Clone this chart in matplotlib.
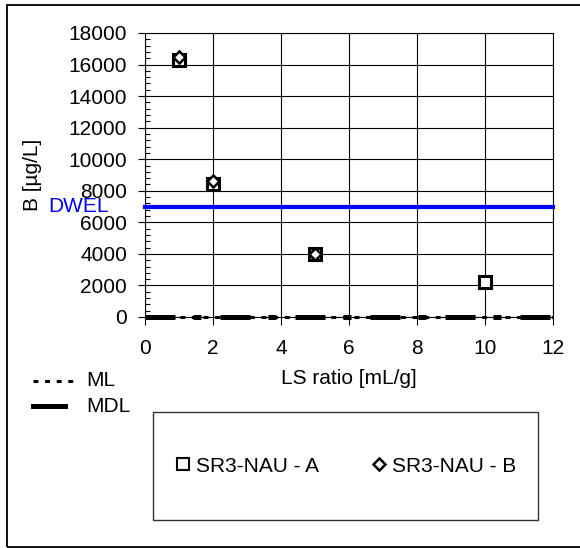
import matplotlib
matplotlib.use('Agg')
import matplotlib.pyplot as plt
from matplotlib.lines import Line2D
from matplotlib.patches import Rectangle

plt.rcParams['font.family'] = ['Liberation Sans', 'DejaVu Sans']

# data
ls_a = [1, 2, 5, 10]
b_a = [16300, 8400, 4000, 2200]
ls_b = [1, 2, 5]
b_b = [16500, 8600, 4000]
dwel = 7000
ml = 0
mdl = 0
x_ticks = [0, 2, 4, 6, 8, 10, 12]
y_ticks = [0, 2000, 4000, 6000, 8000, 10000, 12000, 14000, 16000, 18000]

W, H = 580, 548
fig = plt.figure(figsize=(W / 100, H / 100), dpi=100)
ax = fig.add_axes([145 / W, 1 - 317 / H, 408 / W, 284 / H])

fs = 15
ml_style = dict(color='black', lw=2.2, ls=(0, (1.6, 2.2)))
mdl_style = dict(color='black', lw=3.6, ls=(0, (6, 3.6, 1.6, 3.8)))

ax.axhline(dwel, color='#0000ff', lw=3, zorder=3, clip_on=False)
ax.axhline(mdl, zorder=3, clip_on=False, **mdl_style)
ax.axhline(ml, zorder=3, clip_on=False, **ml_style)

ax.plot(ls_a, b_a, ls='none', marker='s', ms=8.5, mfc='white', mec='black', mew=2.2, zorder=4)
ax.plot(ls_b, b_b, ls='none', marker='D', ms=6.5, mfc='white', mec='black', mew=1.8, zorder=5)

ax.set_xlim(0, 12)
ax.set_ylim(0, 18000)
ax.set_xticks(x_ticks)
ax.set_yticks(y_ticks)
ax.set_yticks(range(0, 18001, 400), minor=True)
ax.grid(True, which='major', color='black', lw=0.8)
ax.tick_params(axis='x', which='major', direction='out', length=6, pad=10, labelsize=fs)
ax.tick_params(axis='y', which='major', direction='out', length=5, pad=8, labelsize=fs)
ax.tick_params(axis='y', which='minor', direction='in', length=3.5, width=0.8)
for s in ax.spines.values():
    s.set_linewidth(0.8)

ax.set_xlabel('LS ratio [mL/g]', fontsize=fs, labelpad=8)
ax.set_ylabel('B [µg/L]', fontsize=fs)
ax.yaxis.set_label_coords(-0.275, 0.5)
ax.yaxis.label.set_verticalalignment('center')
ax.text(-0.162, dwel, 'DWEL', color='#0000ff', fontsize=fs, ha='center', va='center',
        transform=ax.get_yaxis_transform())

# ML / MDL key at left
fig.add_artist(Line2D([33 / W, 78 / W], [1 - 381 / H] * 2, transform=fig.transFigure, **ml_style))
fig.add_artist(Line2D([33 / W, 65 / W], [1 - 406 / H] * 2, transform=fig.transFigure,
                      color='black', lw=3.6))
fig.text(86 / W, 1 - 381 / H, 'ML', fontsize=fs, ha='left', va='center')
fig.text(86 / W, 1 - 406 / H, 'MDL', fontsize=fs, ha='left', va='center')

# series legend box
bx0, by0, bw, bh = 153 / W, 1 - 520 / H, 385 / W, 108 / H
fig.legend(handles=[Line2D([], [], ls='none', marker='s', ms=8, mfc='white', mec='black', mew=1.5),
                    Line2D([], [], ls='none', marker='D', ms=6.5, mfc='white', mec='black', mew=1.8)],
           labels=['SR3-NAU - A', 'SR3-NAU - B'], loc='center',
           bbox_to_anchor=(bx0, by0, bw, bh), ncol=2,
           frameon=False, fontsize=fs, handlelength=0.8, handletextpad=0.2, columnspacing=2.5)
fig.patches.append(Rectangle((bx0, by0), bw, bh, transform=fig.transFigure,
                             fill=False, edgecolor='#333333', lw=1))

# outer border
fig.patches.append(Rectangle((7 / W, 1 / H), 1.0, 1 - 6 / H, transform=fig.transFigure,
                             fill=False, edgecolor='black', lw=1.3))

fig.savefig('out.png', dpi=100)
